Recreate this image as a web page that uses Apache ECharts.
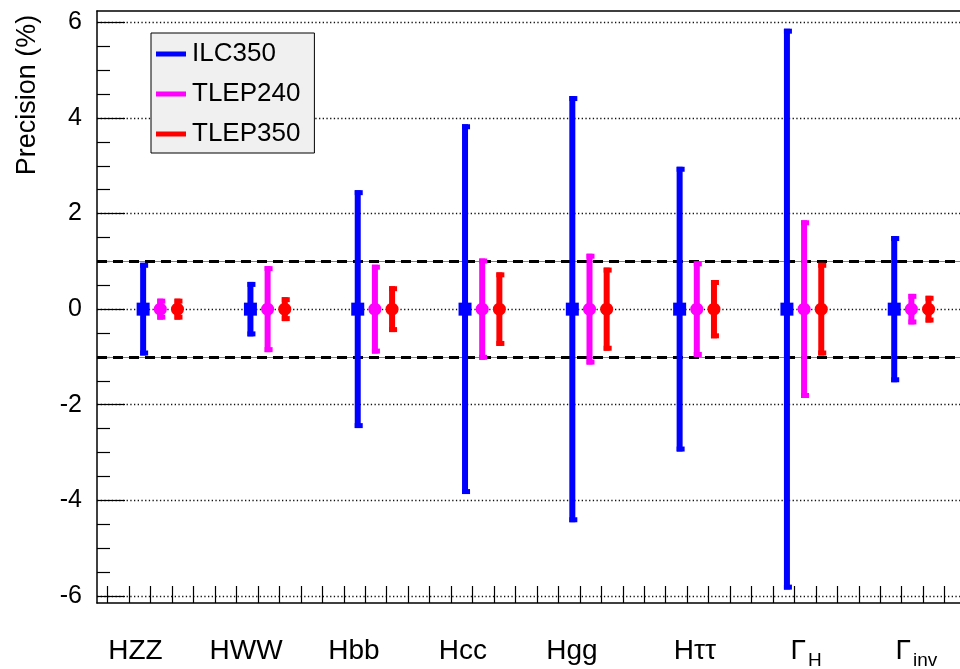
<!DOCTYPE html>
<html>
<head>
<meta charset="utf-8">
<script src="https://cdn.jsdelivr.net/npm/echarts@6/dist/echarts.min.js"></script>
<style>
  html, body { margin: 0; padding: 0; background: #ffffff; }
  #chart { width: 960px; height: 669px; }
</style>
</head>
<body>
<div id="chart"></div>
<script>
// Higgs coupling / width precision (%), shown as symmetric ±error bars around zero
const categories = ['HZZ', 'HWW', 'Hbb', 'Hcc', 'Hgg', 'Hττ', 'Γ_H', 'Γ_inv'];
const ilc350  = [0.97, 0.57, 2.49, 3.87, 4.46, 2.98, 5.87, 1.53];
const tlep240 = [0.22, 0.90, 0.93, 1.06, 1.16, 1.00, 1.86, 0.32];
const tlep350 = [0.22, 0.25, 0.48, 0.77, 0.87, 0.61, 0.97, 0.28];
const yTickLabels = [-6, -4, -2, 0, 2, 4, 6];
const referenceLevels = [1, -1];

// layout constants (axis units: one unit per category)
const X_MAX = 8.043;
const Y_MIN = -6.15, Y_MAX = 6.24;
const seriesOffset = { ILC350: 0.43, TLEP240: 0.59, TLEP350: 0.75 };
const labelCenters = [0.358, 1.389, 2.395, 3.41, 4.427, 5.573, 6.608, 7.637];
const FONT = '"Liberation Sans", Arial, Helvetica, sans-serif';

const xTicks = [];
for (let k = 0; k < 40; k++) xTicks.push(+(0.1 + 0.2 * k).toFixed(2));
const yMinorTicks = [];
for (let v = -5.5; v <= 5.5; v += 0.5) if (v % 2 !== 0) yMinorTicks.push(v);

const measureCtx = document.createElement('canvas').getContext('2d');
function textWidth(str, size) {
  measureCtx.font = size + 'px ' + FONT;
  return measureCtx.measureText(str).width;
}

function errorBarSeries(name, values, color, marker) {
  return {
    type: 'custom',
    name: name,
    color: color,
    itemStyle: { color: color },
    z: 5,
    data: values.map((v, i) => [i + seriesOffset[name], v]),
    renderItem(params, api) {
      const x = api.value(0), v = api.value(1);
      const top = api.coord([x, v]);
      const bot = api.coord([x, -v]);
      const mid = api.coord([x, 0]);
      const bw = 6, capH = 5;
      const left = mid[0] - bw / 2;
      const children = [
        { type: 'rect', shape: { x: left, y: top[1], width: bw, height: bot[1] - top[1] }, style: { fill: color } },
        { type: 'rect', shape: { x: left, y: top[1], width: bw + 2, height: capH }, style: { fill: color } },
        { type: 'rect', shape: { x: left, y: bot[1] - capH, width: bw + 2, height: capH }, style: { fill: color } }
      ];
      if (marker === 'square') {
        children.push({ type: 'rect', shape: { x: mid[0] - 6.5, y: mid[1] - 6.5, width: 13, height: 13 }, style: { fill: color } });
      } else {
        children.push({ type: 'circle', shape: { cx: mid[0], cy: mid[1], r: 6.5 }, style: { fill: color } });
      }
      return { type: 'group', children: children };
    }
  };
}

const chart = echarts.init(document.getElementById('chart'), null, { renderer: 'canvas' });

const option = {
  animation: false,
  backgroundColor: '#ffffff',
  grid: { left: 97, top: 11, right: 0, bottom: 66, containLabel: false },
  legend: {
    orient: 'vertical',
    left: 151,
    top: 33,
    padding: [8, 14, 6, 5],
    itemWidth: 30,
    itemHeight: 5,
    itemGap: 14,
    backgroundColor: '#f0f0f0',
    borderColor: '#000000',
    borderWidth: 1,
    borderRadius: 0,
    selectedMode: false,
    textStyle: { fontSize: 26, fontFamily: FONT, color: '#000000', padding: [0, 0, 0, 1] },
    data: [
      { name: 'ILC350', icon: 'rect', itemStyle: { color: '#0000ff' } },
      { name: 'TLEP240', icon: 'rect', itemStyle: { color: '#ff00ff' } },
      { name: 'TLEP350', icon: 'rect', itemStyle: { color: '#ff0000' } }
    ]
  },
  xAxis: [
    {
      type: 'value', min: 0, max: X_MAX, position: 'bottom',
      axisLine: { show: true, onZero: false, lineStyle: { color: '#000', width: 1.5 } },
      axisTick: { show: true, inside: true, length: 17, customValues: xTicks, lineStyle: { color: '#000', width: 1.2 } },
      axisLabel: { show: false },
      splitLine: { show: false }
    },
    {
      type: 'value', min: 0, max: X_MAX, position: 'top',
      axisLine: { show: true, onZero: false, lineStyle: { color: '#000', width: 1.5 } },
      axisTick: { show: false }, axisLabel: { show: false }, splitLine: { show: false }
    }
  ],
  yAxis: [
    {
      type: 'value', min: Y_MIN, max: Y_MAX, position: 'left', offset: 0,
      axisLine: { show: true, onZero: false, lineStyle: { color: '#000', width: 1.5 } },
      axisTick: { show: true, inside: true, length: 28, customValues: yTickLabels, lineStyle: { color: '#000', width: 1.2 } },
      axisLabel: {
        show: true, customValues: yTickLabels, margin: 15,
        fontSize: 25, fontFamily: FONT, color: '#000',
        formatter: v => String(v)
      },
      splitLine: { show: true, lineStyle: { color: '#111', type: [1.3, 2.4], width: 1.3 } }
    },
    {
      type: 'value', min: Y_MIN, max: Y_MAX, position: 'left', offset: 0,
      axisLine: { show: false },
      axisTick: { show: true, inside: true, length: 13, customValues: yMinorTicks, lineStyle: { color: '#000', width: 1.2 } },
      axisLabel: { show: false },
      splitLine: { show: false }
    }
  ],
  graphic: [
    {
      type: 'text', x: 28, y: 95, rotation: Math.PI / 2,
      style: { text: 'Precision (%)', fontSize: 27, fontFamily: FONT, fill: '#000', align: 'center', verticalAlign: 'middle' }
    }
  ],
  series: [
    {
      type: 'line', name: 'reference', data: [], z: 3, silent: true,
      markLine: {
        symbol: 'none', silent: true, animation: false, label: { show: false },
        data: referenceLevels.map(v => ({ yAxis: v, lineStyle: { color: '#6f82b8', width: 1, type: 'solid' } }))
          .concat(referenceLevels.map(v => ({ yAxis: v, lineStyle: { color: '#000', width: 3, type: [10, 6] } })))
      }
    },
    errorBarSeries('ILC350', ilc350, '#0000ff', 'square'),
    errorBarSeries('TLEP240', tlep240, '#ff00ff', 'circle'),
    errorBarSeries('TLEP350', tlep350, '#ff0000', 'circle'),
    {
      type: 'custom', name: 'categoryLabels', silent: true, z: 6,
      data: categories.map((c, i) => [labelCenters[i], Y_MIN]),
      renderItem(params, api) {
        const p = api.coord([api.value(0), api.value(1)]);
        const parts = categories[params.dataIndex].split('_');
        const main = parts[0], sub = parts[1];
        const mainSize = 28, subSize = 19;
        const wMain = textWidth(main, mainSize);
        const wSub = sub ? textWidth(sub, subSize) + 2 : 0;
        const x0 = p[0] - (wMain + wSub) / 2;
        const y = p[1] + 48;
        const children = [{
          type: 'text',
          style: { text: main, x: x0, y: y, fontSize: mainSize, fontFamily: FONT, fill: '#000', align: 'left', verticalAlign: 'middle' }
        }];
        if (sub) {
          children.push({
            type: 'text',
            style: { text: sub, x: x0 + wMain + 2, y: y + 10, fontSize: subSize, fontFamily: FONT, fill: '#000', align: 'left', verticalAlign: 'middle' }
          });
        }
        return { type: 'group', children: children };
      }
    }
  ]
};

chart.setOption(option);
</script>
</body>
</html>
